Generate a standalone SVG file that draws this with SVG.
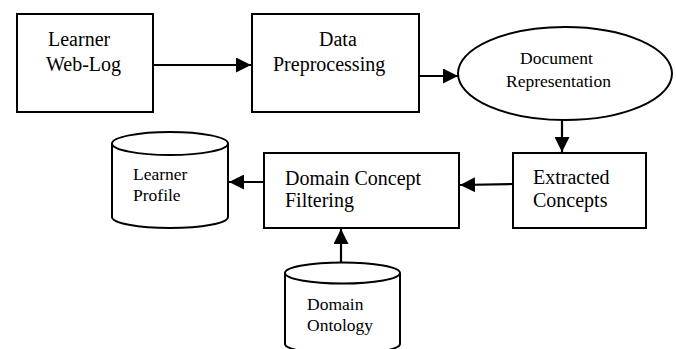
<svg xmlns="http://www.w3.org/2000/svg" width="676" height="349" viewBox="0 0 676 349">
<style>
.box{fill:#fff;stroke:#000;stroke-width:2}
.t{font-family:"Liberation Serif","Times New Roman",serif;font-size:20px;fill:#000}
.s{font-family:"Liberation Serif","Times New Roman",serif;font-size:17.5px;fill:#000}
.c{fill:none;stroke:#000;stroke-width:2.2}
</style>
<defs>
<marker id="ah" viewBox="0 0 15 15" refX="15" refY="7.5" markerWidth="15" markerHeight="15" markerUnits="userSpaceOnUse" orient="auto">
<path d="M0,0 L15,7.5 L0,15 Z" fill="#000"/>
</marker>
</defs>
<rect width="676" height="349" fill="#fff"/>
<g id="connectors">
<line class="c" x1="153" y1="65" x2="251" y2="65" marker-end="url(#ah)"/>
<line class="c" x1="419" y1="76" x2="458" y2="76" marker-end="url(#ah)"/>
<line class="c" x1="562" y1="120" x2="562" y2="152" marker-end="url(#ah)"/>
<line class="c" x1="513" y1="184" x2="460" y2="185" marker-end="url(#ah)"/>
<line class="c" x1="264" y1="182" x2="229" y2="182" marker-end="url(#ah)"/>
<line class="c" x1="341" y1="262" x2="341" y2="229" marker-end="url(#ah)"/>
</g>
<g id="learner-weblog">
<rect class="box" x="17" y="14" width="136" height="98"/>
<text class="t" x="48" y="46">Learner</text>
<text class="t" x="46" y="71">Web-Log</text>
</g>
<g id="data-preprocessing">
<rect class="box" x="252" y="14" width="167" height="98"/>
<text class="t" x="319" y="46">Data</text>
<text class="t" x="273" y="71">Preprocessing</text>
</g>
<g id="document-representation">
<ellipse class="box" cx="565" cy="73.5" rx="107" ry="46.5"/>
<text class="s" x="520" y="64">Document</text>
<text class="s" x="506" y="87">Representation</text>
</g>
<g id="extracted-concepts">
<rect class="box" x="513" y="153" width="133" height="75"/>
<text class="t" x="533" y="184">Extracted</text>
<text class="t" x="533" y="207">Concepts</text>
</g>
<g id="domain-concept-filtering">
<rect class="box" x="264" y="153" width="195" height="75"/>
<text class="t" x="285" y="185">Domain Concept</text>
<text class="t" x="285" y="207">Filtering</text>
</g>
<g id="learner-profile">
<path class="box" d="M112,143.5 L112,217 A58,11 0 0 0 228,217 L228,143.5"/>
<ellipse class="box" cx="170" cy="143.5" rx="58" ry="11.5"/>
<text class="s" x="133" y="180">Learner</text>
<text class="s" x="133" y="201">Profile</text>
</g>
<g id="domain-ontology">
<path class="box" d="M285,273 L285,344 A57.5,10 0 0 0 400,344 L400,273"/>
<ellipse class="box" cx="342.5" cy="273" rx="57.5" ry="10.5"/>
<text class="s" x="307" y="310">Domain</text>
<text class="s" x="307" y="331">Ontology</text>
</g>
</svg>
